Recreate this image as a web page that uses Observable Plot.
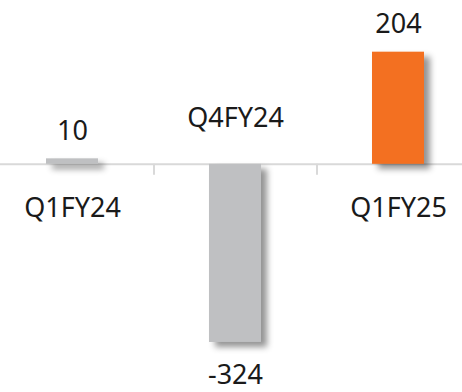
<!DOCTYPE html>
<html>
<head>
<meta charset="utf-8">
<script src="https://cdn.jsdelivr.net/npm/d3@7"></script>
<script src="https://cdn.jsdelivr.net/npm/@observablehq/plot@0.6"></script>
<style>
  html, body { margin: 0; padding: 0; background: #fff; }
  #chart { width: 462px; height: 392px; }
</style>
</head>
<body>
<div id="chart"></div>
<script>
const categories = ["Q1FY24", "Q4FY24", "Q1FY25"];
const values = [10, -324, 204];
const barColors = ["#bfc0c2", "#bfc0c2", "#f37021"];

const data = categories.map((c, i) => ({category: c, value: values[i], color: barColors[i]}));
const positive = d => d.value >= 0;
const negative = d => d.value < 0;

const W = 462, H = 392;
const xRange = [-9.5, 479.5];
const halfStep = (xRange[1] - xRange[0]) / categories.length / 2;
const font = "'Noto Sans', sans-serif";
const fs = 27;

const chart = Plot.plot({
  width: W,
  height: H,
  margin: 0,
  style: {fontFamily: font, fontSize: fs + "px", color: "#1a1a1a", background: "#fff"},
  x: {domain: categories, range: xRange, paddingInner: 0.68, paddingOuter: 0.34, axis: null},
  y: {domain: [-415, 298], axis: null},
  marks: [
    Plot.ruleY([0], {stroke: "#d9d9d9", strokeWidth: 2}),
    Plot.ruleX(categories.slice(0, 2), {x: d => d, y1: 0, y2: -20, dx: halfStep, stroke: "#d9d9d9", strokeWidth: 2}),
    Plot.barY(data, {x: "category", y: "value", fill: "color"}),
    // value labels
    Plot.text(data, {filter: positive, x: "category", y: "value", text: d => String(d.value), lineAnchor: "bottom", dy: -19, fontSize: fs, fill: "#1a1a1a"}),
    Plot.text(data, {filter: negative, x: "category", y: "value", text: d => String(d.value), lineAnchor: "top", dy: 22, fontSize: fs, fill: "#1a1a1a"}),
    // category labels
    Plot.text(data, {filter: positive, x: "category", y: () => 0, text: "category", lineAnchor: "bottom", dy: 53, fontSize: fs, fill: "#1a1a1a"}),
    Plot.text(data, {filter: negative, x: "category", y: () => 0, text: "category", lineAnchor: "bottom", dy: -37, fontSize: fs, fill: "#1a1a1a"})
  ]
});

const barG = chart.querySelector('g[aria-label="bar"]');
if (barG) barG.style.filter = "drop-shadow(6px 5px 3px rgba(0,0,0,0.42))";
document.getElementById("chart").appendChild(chart);
</script>
</body>
</html>
